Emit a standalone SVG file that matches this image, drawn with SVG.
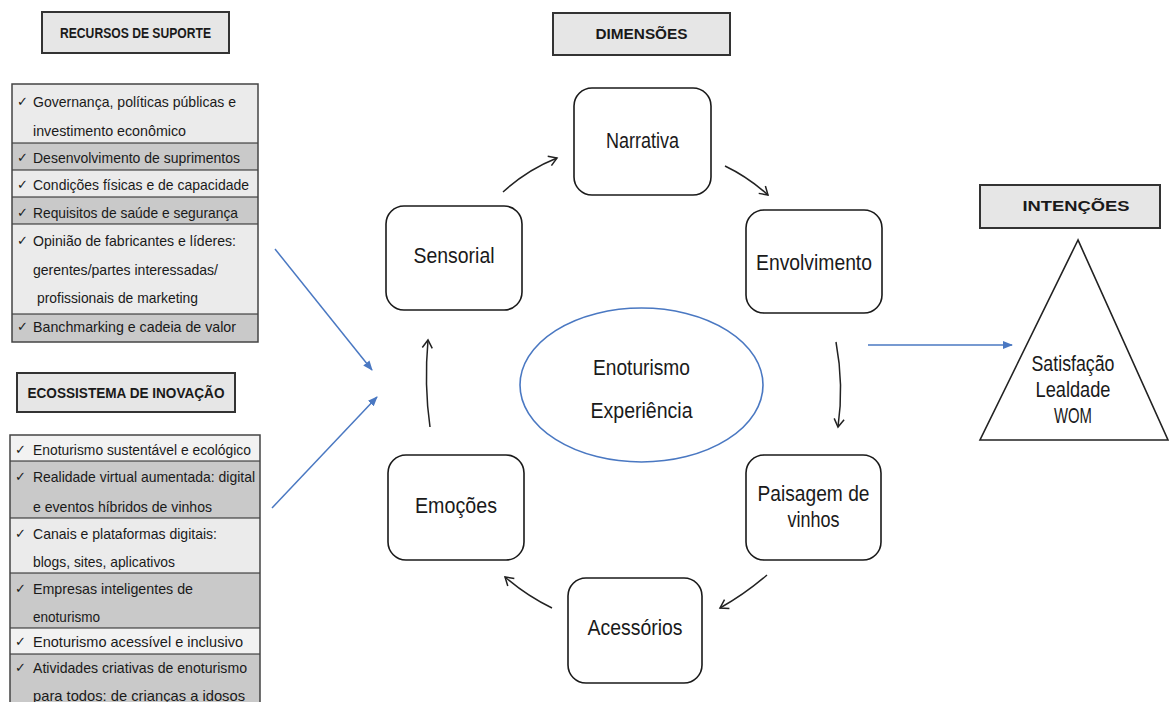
<svg xmlns="http://www.w3.org/2000/svg" width="1169" height="702" viewBox="0 0 1169 702">
  <style>
    text { font-family: "Liberation Sans Narrow", "Liberation Sans", Arial, sans-serif; fill: #1a1a1a; }
    .hdr rect { fill: #e6e6e6; stroke: #333; stroke-width: 2; }
    .hdr text { font-size: 14px; font-weight: bold; text-anchor: middle; }
    .item { font-size: 15px; }
    .chk { font-size: 13px; }
    .lt { fill: #ebebeb; }
    .dk { fill: #c9c9c9; }
    .sep { stroke: #222; stroke-width: 1.2; }
    .frame { fill: none; stroke: #444; stroke-width: 1.5; }
    .node rect { fill: #fff; stroke: #1a1a1a; stroke-width: 1.6; }
    .node text { font-size: 22px; text-anchor: middle; }
    .big { font-size: 22px; text-anchor: middle; }
    .cyc { fill: none; stroke: #222; stroke-width: 1.5; marker-end: url(#open); }
    .flow { fill: none; stroke: #4a78c2; stroke-width: 1.5; marker-end: url(#blue); }
  </style>
  <defs>
    <marker id="open" viewBox="0 0 12 12" refX="10" refY="6" markerWidth="12" markerHeight="12" markerUnits="userSpaceOnUse" orient="auto">
      <path d="M2,1 L10,6 L2,11" fill="none" stroke="#222" stroke-width="1.5"/>
    </marker>
    <marker id="blue" viewBox="0 0 10 10" refX="9" refY="5" markerWidth="10" markerHeight="10" markerUnits="userSpaceOnUse" orient="auto">
      <path d="M0,1 L10,5 L0,9 Z" fill="#4a78c2"/>
    </marker>
  </defs>

  <!-- section headers -->
  <g id="hdr-recursos" class="hdr">
    <rect x="42" y="12" width="187" height="41"/>
    <text x="135.5" y="38" textLength="151" lengthAdjust="spacingAndGlyphs">RECURSOS DE SUPORTE</text>
  </g>
  <g id="hdr-dimensoes" class="hdr">
    <rect x="553" y="13" width="177" height="42"/>
    <text x="641.5" y="39" textLength="92" lengthAdjust="spacingAndGlyphs">DIMENSÕES</text>
  </g>
  <g id="hdr-ecossistema" class="hdr">
    <rect x="17" y="373" width="218" height="39"/>
    <text x="126" y="398" textLength="197" lengthAdjust="spacingAndGlyphs">ECOSSISTEMA DE INOVAÇÃO</text>
  </g>
  <g id="hdr-intencoes" class="hdr">
    <rect x="980" y="185" width="180" height="43"/>
    <text x="1076" y="211" textLength="107" lengthAdjust="spacingAndGlyphs">INTENÇÕES</text>
  </g>

  <!-- support resources list -->
  <g id="list-recursos">
    <rect class="lt" x="12" y="84" width="246" height="59"/>
    <rect class="dk" x="12" y="143" width="246" height="27"/>
    <rect class="lt" x="12" y="170" width="246" height="27"/>
    <rect class="dk" x="12" y="197" width="246" height="27"/>
    <rect class="lt" x="12" y="224" width="246" height="90"/>
    <rect class="dk" x="12" y="314" width="246" height="28"/>
    <line class="sep" x1="12" y1="143" x2="258" y2="143"/>
    <line class="sep" x1="12" y1="170" x2="258" y2="170"/>
    <line class="sep" x1="12" y1="197" x2="258" y2="197"/>
    <line class="sep" x1="12" y1="224" x2="258" y2="224"/>
    <line class="sep" x1="12" y1="314" x2="258" y2="314"/>
    <rect class="frame" x="12" y="84" width="246" height="258"/>
    <text class="chk" x="17" y="106">✓</text>
    <text class="item" x="33" y="107" textLength="203" lengthAdjust="spacingAndGlyphs">Governança, políticas públicas e</text>
    <text class="item" x="33" y="136" textLength="153" lengthAdjust="spacingAndGlyphs">investimento econômico</text>
    <text class="chk" x="17" y="162">✓</text>
    <text class="item" x="33" y="163" textLength="207" lengthAdjust="spacingAndGlyphs">Desenvolvimento de suprimentos</text>
    <text class="chk" x="17" y="189">✓</text>
    <text class="item" x="33" y="190" textLength="216" lengthAdjust="spacingAndGlyphs">Condições físicas e de capacidade</text>
    <text class="chk" x="17" y="217">✓</text>
    <text class="item" x="33" y="218" textLength="205" lengthAdjust="spacingAndGlyphs">Requisitos de saúde e segurança</text>
    <text class="chk" x="17" y="245">✓</text>
    <text class="item" x="33" y="246" textLength="203" lengthAdjust="spacingAndGlyphs">Opinião de fabricantes e líderes:</text>
    <text class="item" x="33" y="275" textLength="185" lengthAdjust="spacingAndGlyphs">gerentes/partes interessadas/</text>
    <text class="item" x="37" y="303" textLength="161" lengthAdjust="spacingAndGlyphs">profissionais de marketing</text>
    <text class="chk" x="17" y="331">✓</text>
    <text class="item" x="33" y="332" textLength="203" lengthAdjust="spacingAndGlyphs">Banchmarking e cadeia de valor</text>
  </g>

  <!-- innovation ecosystem list -->
  <g id="list-ecossistema">
    <rect class="lt" x="10" y="435" width="250" height="26" style="fill:#f2f2f2"/>
    <rect class="dk" x="10" y="461" width="250" height="57"/>
    <rect class="lt" x="10" y="518" width="250" height="55"/>
    <rect class="dk" x="10" y="573" width="250" height="55"/>
    <rect class="lt" x="10" y="628" width="250" height="26" style="fill:#f2f2f2"/>
    <rect class="dk" x="10" y="654" width="250" height="50"/>
    <line class="sep" x1="10" y1="461" x2="260" y2="461"/>
    <line class="sep" x1="10" y1="518" x2="260" y2="518"/>
    <line class="sep" x1="10" y1="573" x2="260" y2="573"/>
    <line class="sep" x1="10" y1="628" x2="260" y2="628"/>
    <line class="sep" x1="10" y1="654" x2="260" y2="654"/>
    <path class="frame" d="M10,704 V435 H260 V704"/>
    <text class="chk" x="15" y="454">✓</text>
    <text class="item" x="33" y="455" textLength="218" lengthAdjust="spacingAndGlyphs">Enoturismo sustentável e ecológico</text>
    <text class="chk" x="15" y="481">✓</text>
    <text class="item" x="33" y="482" textLength="222" lengthAdjust="spacingAndGlyphs">Realidade virtual aumentada: digital</text>
    <text class="item" x="33" y="512" textLength="179" lengthAdjust="spacingAndGlyphs">e eventos híbridos de vinhos</text>
    <text class="chk" x="15" y="538">✓</text>
    <text class="item" x="33" y="539" textLength="184" lengthAdjust="spacingAndGlyphs">Canais e plataformas digitais:</text>
    <text class="item" x="33" y="567" textLength="142" lengthAdjust="spacingAndGlyphs">blogs, sites, aplicativos</text>
    <text class="chk" x="15" y="593">✓</text>
    <text class="item" x="33" y="594" textLength="160" lengthAdjust="spacingAndGlyphs">Empresas inteligentes de</text>
    <text class="item" x="33" y="622" textLength="67" lengthAdjust="spacingAndGlyphs">enoturismo</text>
    <text class="chk" x="15" y="646">✓</text>
    <text class="item" x="33" y="647" textLength="210" lengthAdjust="spacingAndGlyphs">Enoturismo acessível e inclusivo</text>
    <text class="chk" x="15" y="672">✓</text>
    <text class="item" x="33" y="673" textLength="214" lengthAdjust="spacingAndGlyphs">Atividades criativas de enoturismo</text>
    <text class="item" x="33" y="701" textLength="212" lengthAdjust="spacingAndGlyphs">para todos: de crianças a idosos</text>
  </g>

  <!-- dimension nodes -->
  <g id="node-narrativa" class="node">
    <rect x="574" y="88" width="137" height="107" rx="18"/>
    <text x="642.5" y="148" textLength="73" lengthAdjust="spacingAndGlyphs">Narrativa</text>
  </g>
  <g id="node-sensorial" class="node">
    <rect x="386" y="206" width="136" height="104" rx="18"/>
    <text x="454" y="263" textLength="81" lengthAdjust="spacingAndGlyphs">Sensorial</text>
  </g>
  <g id="node-envolvimento" class="node">
    <rect x="746" y="210" width="136" height="103" rx="18"/>
    <text x="814" y="270" textLength="116" lengthAdjust="spacingAndGlyphs">Envolvimento</text>
  </g>
  <g id="node-emocoes" class="node">
    <rect x="388" y="455" width="136" height="105" rx="18"/>
    <text x="456" y="513" textLength="82" lengthAdjust="spacingAndGlyphs">Emoções</text>
  </g>
  <g id="node-paisagem" class="node">
    <rect x="746" y="455" width="135" height="105" rx="18"/>
    <text x="813.5" y="501" textLength="112" lengthAdjust="spacingAndGlyphs">Paisagem de</text>
    <text x="813.5" y="527" textLength="52" lengthAdjust="spacingAndGlyphs">vinhos</text>
  </g>
  <g id="node-acessorios" class="node">
    <rect x="568" y="578" width="134" height="105" rx="18"/>
    <text x="635" y="635" textLength="95" lengthAdjust="spacingAndGlyphs">Acessórios</text>
  </g>
  <g id="node-centro">
    <ellipse cx="641.5" cy="385" rx="121.5" ry="77" fill="#fff" stroke="#4a78c2" stroke-width="1.6"/>
    <text class="big" x="641.5" y="375" textLength="97" lengthAdjust="spacingAndGlyphs">Enoturismo</text>
    <text class="big" x="641.5" y="418" textLength="102" lengthAdjust="spacingAndGlyphs">Experiência</text>
  </g>

  <!-- intentions pyramid -->
  <g id="node-intencoes">
    <polygon points="1078,240 980,440 1168,440" fill="#fff" stroke="#222" stroke-width="1.6"/>
    <text class="big" x="1073" y="371" textLength="83" lengthAdjust="spacingAndGlyphs">Satisfação</text>
    <text class="big" x="1073" y="397" textLength="75" lengthAdjust="spacingAndGlyphs">Lealdade</text>
    <text class="big" x="1073" y="423" textLength="38" lengthAdjust="spacingAndGlyphs">WOM</text>
  </g>

  <!-- connectors -->
  <g id="connectors">
    <path class="cyc" d="M503,192 Q527,170 557,158"/>
    <path class="cyc" d="M725,166 Q748,177 768,195"/>
    <path class="cyc" d="M836,342 Q844,385 838,427"/>
    <path class="cyc" d="M767,575 Q745,594 720,608"/>
    <path class="cyc" d="M552,608 Q527,596 505,577"/>
    <path class="cyc" d="M430,427 Q424,385 428,340"/>
    <path class="flow" d="M275,249 L372,370"/>
    <path class="flow" d="M272,508 L377,397"/>
    <path class="flow" d="M868,345 L1012,345"/>
  </g>
</svg>
